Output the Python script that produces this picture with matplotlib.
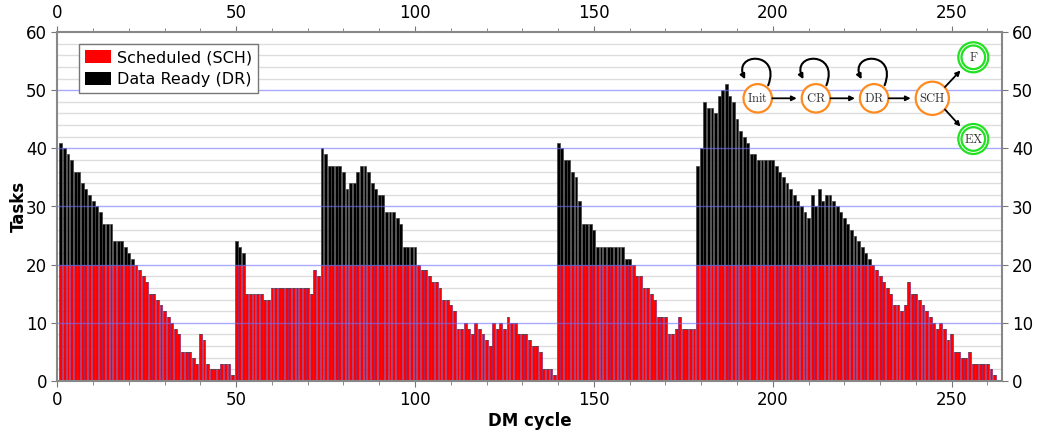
import numpy as np
import matplotlib
matplotlib.use("Agg")
import matplotlib.pyplot as plt
from matplotlib.patches import Circle, FancyArrowPatch, Patch
from matplotlib.path import Path
from matplotlib.ticker import MultipleLocator

# ---------------- data ----------------
cycles = list(range(1, 263))

scheduled = [
    20, 20, 20, 20, 20, 20, 20, 20, 20, 20,
    20, 20, 20, 20, 20, 20, 20, 20, 20, 20,
    20, 20, 19, 18, 17, 15, 15, 14, 13, 12,
    11, 10, 9, 8, 5, 5, 5, 4, 3, 8,
    7, 3, 2, 2, 2, 3, 3, 3, 1, 20,
    20, 20, 15, 15, 15, 15, 15, 14, 14, 16,
    16, 16, 16, 16, 16, 16, 16, 16, 16, 16,
    15, 19, 18, 20, 20, 20, 20, 20, 20, 20,
    20, 20, 20, 20, 20, 20, 20, 20, 20, 20,
    20, 20, 20, 20, 20, 20, 20, 20, 20, 20,
    20, 19, 19, 18, 17, 17, 16, 14, 14, 13,
    12, 9, 9, 10, 9, 8, 10, 9, 8, 7,
    6, 10, 9, 10, 9, 11, 10, 10, 8, 8,
    8, 7, 6, 6, 5, 2, 2, 2, 1, 20,
    20, 20, 20, 20, 20, 20, 20, 20, 20, 20,
    20, 20, 20, 20, 20, 20, 20, 20, 20, 20,
    20, 18, 18, 16, 16, 15, 14, 11, 11, 11,
    8, 8, 9, 11, 9, 9, 9, 9, 20, 20,
    20, 20, 20, 20, 20, 20, 20, 20, 20, 20,
    20, 20, 20, 20, 20, 20, 20, 20, 20, 20,
    20, 20, 20, 20, 20, 20, 20, 20, 20, 20,
    20, 20, 20, 20, 20, 20, 20, 20, 20, 20,
    20, 20, 20, 20, 20, 20, 20, 20, 19, 18,
    17, 16, 15, 13, 13, 12, 13, 17, 15, 15,
    14, 13, 12, 11, 10, 9, 10, 9, 7, 8,
    5, 5, 4, 4, 5, 3, 3, 3, 3, 3,
    2, 1,
]

data_ready = [
    21, 20, 19, 18, 16, 16, 14, 13, 12, 11,
    10, 9, 7, 7, 7, 4, 4, 4, 3, 2,
    1, 0, 0, 0, 0, 0, 0, 0, 0, 0,
    0, 0, 0, 0, 0, 0, 0, 0, 0, 0,
    0, 0, 0, 0, 0, 0, 0, 0, 0, 4,
    3, 2, 0, 0, 0, 0, 0, 0, 0, 0,
    0, 0, 0, 0, 0, 0, 0, 0, 0, 0,
    0, 0, 0, 20, 19, 17, 17, 17, 17, 16,
    13, 14, 14, 16, 17, 17, 16, 14, 13, 12,
    12, 9, 9, 9, 8, 7, 3, 3, 3, 3,
    0, 0, 0, 0, 0, 0, 0, 0, 0, 0,
    0, 0, 0, 0, 0, 0, 0, 0, 0, 0,
    0, 0, 0, 0, 0, 0, 0, 0, 0, 0,
    0, 0, 0, 0, 0, 0, 0, 0, 0, 21,
    20, 18, 18, 16, 15, 11, 7, 7, 7, 6,
    3, 3, 3, 3, 3, 3, 3, 3, 1, 1,
    0, 0, 0, 0, 0, 0, 0, 0, 0, 0,
    0, 0, 0, 0, 0, 0, 0, 0, 17, 20,
    28, 27, 27, 26, 29, 30, 31, 29, 28, 25,
    23, 22, 21, 19, 19, 18, 18, 18, 18, 18,
    17, 16, 15, 14, 13, 12, 11, 10, 9, 8,
    12, 10, 13, 11, 12, 12, 11, 10, 9, 8,
    7, 6, 5, 4, 3, 2, 1, 0, 0, 0,
    0, 0, 0, 0, 0, 0, 0, 0, 0, 0,
    0, 0, 0, 0, 0, 0, 0, 0, 0, 0,
    0, 0, 0, 0, 0, 0, 0, 0, 0, 0,
    0, 0,
]

legend_labels = ["Scheduled (SCH)", "Data Ready (DR)"]
x_label = "DM cycle"
y_label = "Tasks"
state_names = ["Init", "CR", "DR", "SCH"]
final_names = ["F", "EX"]

# ---------------- figure ----------------
plt.rcParams["mathtext.fontset"] = "cm"
W, H = 1037, 436
fig = plt.figure(figsize=(W / 100, H / 100), dpi=100)
ax = fig.add_axes([57.3 / W, 1 - 381 / H, (1001.7 - 57.3) / W, (381 - 32) / H])

red = "#ff0000"
ax.bar(cycles, scheduled, width=0.8, color=red, edgecolor="#8a2a7a",
       linewidth=0.5, zorder=2, label=legend_labels[0])
ax.bar(cycles, data_ready, bottom=scheduled, width=0.8, color="black",
       edgecolor="#444444", linewidth=0.5, zorder=2, label=legend_labels[1])

ax.set_xlim(0, 264)
ax.set_ylim(0, 60)

ax.xaxis.set_major_locator(MultipleLocator(50))
ax.xaxis.set_minor_locator(MultipleLocator(10))
ax.yaxis.set_major_locator(MultipleLocator(10))
ax.yaxis.set_minor_locator(MultipleLocator(2))

ax.grid(which="minor", axis="y", color="#dddddd", linewidth=1.0, zorder=0)
ax.set_axisbelow(True)
for yv in range(10, 60, 10):
    ax.axhline(yv, color="#7070ff", linewidth=1.0, alpha=0.6, zorder=3)

ax.tick_params(axis="both", which="major", labelsize=12, direction="out",
               length=4, color="#777777", top=True, right=True,
               labeltop=True, labelright=True)
ax.tick_params(axis="x", which="minor", direction="out", length=3,
               color="#777777", top=True)
ax.tick_params(axis="y", which="minor", length=0)
for s in ax.spines.values():
    s.set_color("#888888")
    s.set_linewidth(1.5)

ax.set_xlabel(x_label, fontsize=12, fontweight="bold", labelpad=2)
ax.set_ylabel(y_label, fontsize=12, fontweight="bold", labelpad=-1.5)

handles = [Patch(facecolor=red, edgecolor="none"),
           Patch(facecolor="black", edgecolor="none")]
leg = ax.legend(handles, legend_labels, loc="upper left",
                bbox_to_anchor=((79 - 57.3) / 944.4, (381 - 44) / 349),
                borderaxespad=0, fontsize=11.5, fancybox=False,
                framealpha=1, edgecolor="#777777", handlelength=1.6,
                handleheight=0.85, borderpad=0.4, labelspacing=0.42,
                handletextpad=0.35)
leg.get_frame().set_linewidth(1.0)
leg.set_zorder(10)

# ---------------- state diagram overlay (pixel coordinates) ----------------
ov = fig.add_axes([0, 0, 1, 1], zorder=20)
ov.set_xlim(0, W)
ov.set_ylim(H, 0)
ov.axis("off")
ov.patch.set_alpha(0)

orange = "#ff8a1e"
green = "#22e022"
cy = 98.3
xs = [757.7, 815.9, 874.1, 932.3]
rs = [14.2, 14.2, 14.2, 16.6]
for name, cx, r in zip(state_names, xs, rs):
    ov.add_patch(Circle((cx, cy), r, facecolor="white", edgecolor=orange,
                        linewidth=1.6, zorder=5))
    ov.text(cx, cy, r"$\mathrm{%s}$" % name, ha="center", va="center",
            fontsize=9, color="#333333", zorder=6)

# self loops on Init, CR, DR
for cx in xs[:3]:
    verts = [(cx + 10.5, cy - 13), (cx + 24, cy - 48), (cx - 26, cy - 46),
             (cx - 12.5, cy - 19)]
    p = Path(verts, [Path.MOVETO, Path.CURVE4, Path.CURVE4, Path.CURVE4])
    ov.add_patch(FancyArrowPatch(path=p, arrowstyle="-|>", mutation_scale=7,
                                 linewidth=1.5, color="black", zorder=6))

# straight arrows between states
for i in range(3):
    a = (xs[i] + rs[i] + 0.5, cy)
    b = (xs[i + 1] - rs[i + 1] - 5, cy)
    ov.add_patch(FancyArrowPatch(a, b, arrowstyle="-|>", mutation_scale=7,
                                 linewidth=1.3, color="black",
                                 shrinkA=0, shrinkB=0, zorder=6))

# final states
fx = 973.3
fys = [57.3, 139.0]
for name, fy in zip(final_names, fys):
    ov.add_patch(Circle((fx, fy), 15.0, facecolor="white", edgecolor=green,
                        linewidth=1.6, zorder=5))
    ov.add_patch(Circle((fx, fy), 11.8, facecolor="none", edgecolor=green,
                        linewidth=1.6, zorder=5))
    ov.text(fx, fy, r"$\mathrm{%s}$" % name, ha="center", va="center",
            fontsize=9, color="#333333", zorder=6)

ov.add_patch(FancyArrowPatch((945, 87), (960.5, 70.5), arrowstyle="-|>",
                             mutation_scale=7, linewidth=1.3, color="black",
                             shrinkA=0, shrinkB=0, zorder=6))
ov.add_patch(FancyArrowPatch((945, 109.5), (960.5, 126.5), arrowstyle="-|>",
                             mutation_scale=7, linewidth=1.3, color="black",
                             shrinkA=0, shrinkB=0, zorder=6))

fig.savefig("out.png", dpi=100)
